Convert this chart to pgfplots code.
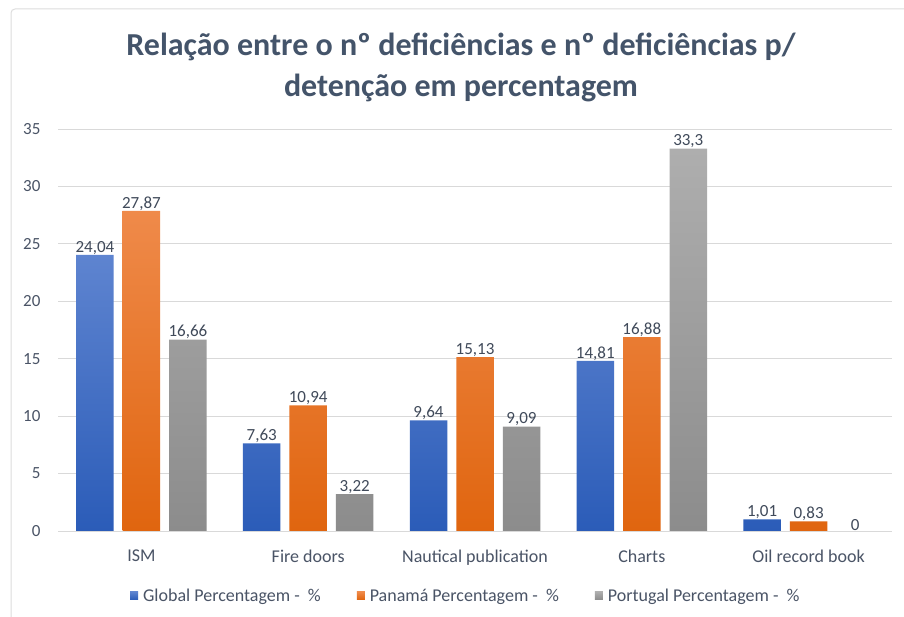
\documentclass[border=0pt]{standalone}
\usepackage{pgfplots}
\pgfplotsset{compat=1.18}
\usepackage{fontspec}
\setmainfont{Carlito}
\definecolor{titlec}{HTML}{44546A}
\definecolor{labc}{HTML}{404A5A}
\definecolor{tickc}{HTML}{4A5466}
\definecolor{gridc}{HTML}{D9D9D9}
\definecolor{framec}{HTML}{DDDDDD}
\definecolor{bluet}{HTML}{5E84D0}
\definecolor{blueb}{HTML}{2B5CB8}
\definecolor{oranget}{HTML}{EF8A4A}
\definecolor{orangeb}{HTML}{E0650F}
\definecolor{grayt}{HTML}{AEAEAE}
\definecolor{grayb}{HTML}{8C8C8C}
\definecolor{bluel}{HTML}{4472C4}
\definecolor{orangel}{HTML}{ED7D31}
\definecolor{grayl}{HTML}{A5A5A5}
\begin{document}
\begin{tikzpicture}
\path[use as bounding box, fill=white] (0,0) rectangle (904bp,617bp);
\draw[framec, line width=1bp] (11bp,0bp) -- (11bp,604bp) arc[start angle=180, end angle=90, radius=4bp] -- (904bp,608bp);
\node[font=\fontsize{32bp}{41bp}\selectfont\bfseries, text=titlec, align=center] at (461bp,550bp)
 {Relação entre o nº deficiências e nº deficiências p/\\detenção em percentagem};
\begin{axis}[
  at={(58bp,86bp)}, anchor=south west,
  scale only axis, width=834bp, height=402bp,
  ymin=0, ymax=35, ytick={0,5,...,35},
  xmin=-0.5, xmax=4.5, xtick={0,1,2,3,4},
  xticklabels={ISM,Fire doors,Nautical publication,Charts,Oil record book},
  ybar=9bp, bar width=37.5bp,
  axis line style={draw=none},
  major tick length=0pt,
  ymajorgrids, grid style={gridc, line width=0.8bp},
  yticklabel style={font=\fontsize{17bp}{20bp}\selectfont, text=tickc, xshift=-14bp},
  xticklabel style={font=\fontsize{18bp}{21bp}\selectfont, text=tickc, yshift=-15bp},
  /pgf/number format/assume math mode=true,
  nodes near coords,
  nodes near coords style={font=\fontsize{17bp}{20bp}\selectfont, text=labc, inner sep=0.5bp,
     /pgf/number format/.cd, use comma, fixed, precision=2},
  legend columns=3,
  legend style={at={(0.489,-0.161)}, anchor=center, draw=none, fill=none,
     font=\fontsize{18bp}{21bp}\selectfont, text=tickc,
     /tikz/every even column/.append style={column sep=34bp}},
]
\addplot[draw=none, top color=bluet, bottom color=blueb,
  legend image code/.code={\fill[bluel] (0bp,-4bp) rectangle (8bp,4bp); \path (11bp,0bp);}]
  coordinates {(0,24.04) (1,7.63) (2,9.64) (3,14.81) (4,1.01)};
\addplot[draw=none, top color=oranget, bottom color=orangeb,
  legend image code/.code={\fill[orangel] (0bp,-4bp) rectangle (8bp,4bp); \path (11bp,0bp);}]
  coordinates {(0,27.87) (1,10.94) (2,15.13) (3,16.88) (4,0.83)};
\addplot[draw=none, top color=grayt, bottom color=grayb,
  legend image code/.code={\fill[grayl] (0bp,-4bp) rectangle (8bp,4bp); \path (11bp,0bp);}]
  coordinates {(0,16.66) (1,3.22) (2,9.09) (3,33.3) (4,0)};
\legend{Global Percentagem -\ \ \%, Panamá Percentagem -\ \ \%, Portugal Percentagem -\ \ \%}
\end{axis}
\end{tikzpicture}
\end{document}
